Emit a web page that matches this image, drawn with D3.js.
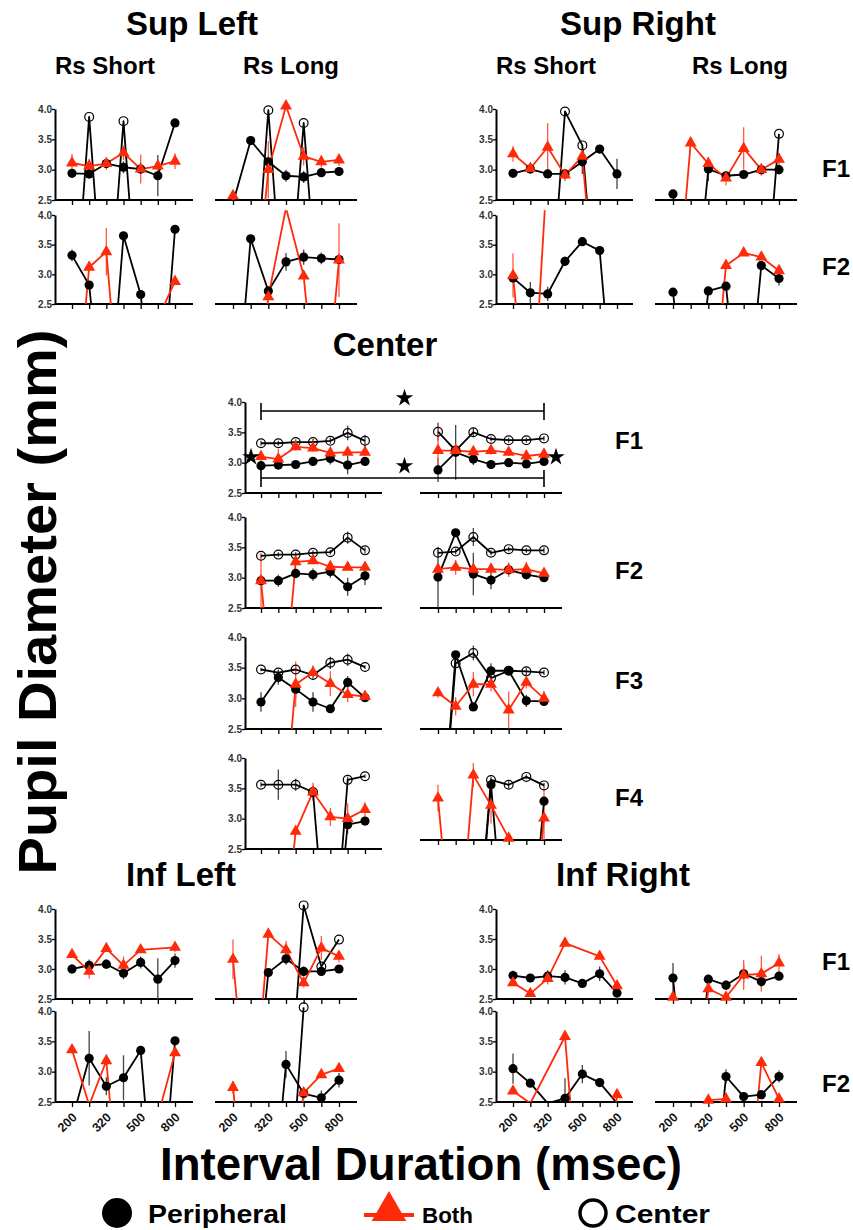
<!DOCTYPE html>
<html><head><meta charset="utf-8">
<script src="https://cdn.jsdelivr.net/npm/d3@7"></script>
<style>
body{margin:0;background:#fff}
text{font-family:"Liberation Sans",Arial,Helvetica,sans-serif;font-weight:bold}
</style>
</head><body>
<svg id="chart" width="853" height="1230"></svg>
<script>
// ---------------- DATA ----------------
const xTickLabels = ["200", "", "320", "", "500", "", "800"];
const yTicks = [2.5, 3.0, 3.5, 4.0];
const seriesNames = ["Peripheral", "Both", "Center"];
const N = [null, null, null, null, null, null, null];

// each panel: [Peripheral, Both, Center]; values below 2.5 run off the axis
const supLeftShortF1 = [[2.94,2.93,3.10,3.04,3.01,2.90,3.77],[3.11,3.06,3.10,3.28,3.01,3.06,3.14],[0,3.87,0,3.80,0,0,0]];
const supLeftShortF1Err = [[0.07,0.08,0.06,0.10,0.06,0.34,0.05],[0.15,0.12,0.10,0.12,0.24,0.08,0.13],N];
const supLeftLongF1 = [[2.45,3.48,3.13,2.90,2.88,2.95,2.97],[2.57,0,3.00,4.05,3.22,3.13,3.16],[0,0,3.98,0,3.77,0,0]];
const supLeftLongF1Err = [[null,null,0.10,0.10,0.10,0.07,0.07],[null,null,0.47,null,0.15,0.10,0.10],N];
const supLeftShortF2 = [[3.32,2.82,0,3.65,2.66,0,3.76],[0,3.12,3.38,0,0,2.25,2.88],N];
const supLeftShortF2Err = [[0.10,null,null,null,null,null,null],[null,null,0.40,null,null,null,null],N];
const supLeftLongF2 = [[0,3.60,2.72,3.21,3.29,3.27,3.25],[null,0,2.62,4.12,2.97,0,3.24],N];
const supLeftLongF2Err = [[null,null,null,0.15,0.13,0.10,null],[null,null,null,null,null,null,0.62],N];

const supRightShortF1 = [[2.94,3.01,2.93,2.93,3.13,3.34,2.93],[3.26,3.02,3.37,2.91,3.22,0,0],[0,0,0,3.96,3.40,0,0]];
const supRightShortF1Err = [[0.06,0.06,0.05,0.05,0.20,0.05,0.25],[0.13,0.06,0.40,0.10,0.15,null,null],N];
const supRightLongF1 = [[2.60,0,3.01,2.90,2.92,3.00,3.00],[0,3.44,3.10,2.86,3.35,3.00,3.17],[0,0,0,0,0,0,3.59]];
const supRightLongF1Err = [[0.06,null,0.20,0.06,0.06,0.06,0.08],[null,null,null,0.12,0.35,0.10,0.10],N];
const supRightShortF2 = [[2.94,2.69,2.67,3.22,3.55,3.40,0],[2.98,0,4.90,null,null,null,null],N];
const supRightShortF2Err = [[0.07,0.18,0.12,0.08,0.05,0.05,null],[0.37,null,null,null,null,null,null],N];
const supRightLongF2 = [[2.70,0,2.72,2.80,0,3.15,2.93],[null,null,0,3.15,3.36,3.29,3.06],N];
const supRightLongF2Err = [[null,null,null,null,null,null,0.12],N,N];

const centerShortF1 = [[2.95,2.96,2.97,3.02,3.07,2.96,3.02],[3.10,3.06,3.26,3.24,3.16,3.17,3.17],[3.32,3.32,3.34,3.34,3.36,3.49,3.36]];
const centerShortF1Err = [[0.04,0.06,0.05,0.06,0.10,0.15,0.06],[0.10,0.17,0.06,0.06,0.06,0.06,0.06],[0.04,0.04,0.04,0.05,0.05,0.12,0.10]];
const centerLongF1 = [[2.88,3.17,3.06,2.97,3.00,2.98,3.02],[3.20,3.20,3.18,3.20,3.17,3.11,3.14],[3.51,3.20,3.50,3.39,3.37,3.37,3.40]];
const centerLongF1Err = [[0.20,0.45,0.10,0.06,0.05,0.05,0.05],[0.40,0.10,0.07,0.07,0.06,0.08,0.07],[0.15,null,0.08,0.04,0.04,0.04,0.04]];
const centerShortF2 = [[2.95,2.95,3.07,3.05,3.10,2.85,3.03],[2.95,0,3.26,3.28,3.18,3.17,3.17],[3.36,3.38,3.38,3.41,3.42,3.66,3.45]];
const centerShortF2Err = [[0.05,0.10,0.08,0.10,0.10,0.15,0.15],[0.45,null,0.06,0.06,0.10,0.05,0.05],[0.04,0.04,0.04,0.04,0.04,0.10,0.05]];
const centerLongF2 = [[3.01,3.74,3.06,2.96,3.13,3.05,3.00],[3.14,3.17,3.14,3.14,3.13,3.14,3.07],[3.41,3.43,3.67,3.41,3.47,3.45,3.45]];
const centerLongF2Err = [[0.50,0.04,0.35,0.15,0.08,0.08,0.06],[0.06,0.12,0.06,0.08,0.12,0.12,0.08],[0.05,0.05,0.15,0.04,0.04,0.04,0.05]];
const centerShortF3 = [[2.94,3.34,3.15,2.94,2.83,3.26,3.01],[null,0,3.23,3.42,3.24,3.06,3.03],[3.47,3.42,3.47,3.38,3.58,3.63,3.51]];
const centerShortF3Err = [[0.16,0.12,0.15,0.16,0.06,0.10,0.05],[null,null,0.37,0.12,0.20,0.12,0.08],[0.03,0.05,0.05,0.05,0.10,0.10,0.03]];
const centerLongF3 = [[0,3.71,2.86,3.45,3.45,2.96,2.95],[3.09,2.87,3.23,3.23,2.81,3.26,3.00],[0,3.57,3.74,3.33,3.45,3.44,3.42]];
const centerLongF3Err = [[null,null,null,0.12,0.06,0.10,0.06],[0.08,0.15,0.20,0.12,0.30,0.10,0.12],[null,null,0.12,0.05,0.06,0.06,0.04]];
const centerShortF4 = [[null,null,null,0,0,2.90,2.96],[null,0,2.79,3.44,3.03,3.00,3.15],[3.56,3.56,3.56,3.44,0,3.64,3.70]];
const centerShortF4Err = [N,[null,null,null,0.15,0.15,0.25,0.12],[0.04,0.25,0.10,0.04,null,0.05,0.03]];
const centerLongF4 = [[null,null,0,3.41,0,0,3.14],[3.19,0,3.57,3.07,2.53,0,2.86],[null,null,0,3.49,3.41,3.54,3.40]];
const centerLongF4Err = [[null,null,null,0.10,null,null,null],[0.22,null,0.20,0.30,null,null,0.50],[null,null,null,0.05,0.06,0.04,0.04]];

const infLeftShortF1 = [[3.00,3.06,3.08,2.93,3.11,2.83,3.14],[3.24,2.96,3.34,3.06,3.32,null,3.36],N];
const infLeftShortF1Err = [[0.08,0.10,0.08,0.10,0.10,0.35,0.12],[0.04,0.12,0.04,0.15,0.04,null,0.08],N];
const infLeftLongF1 = [[null,0,2.94,3.17,2.96,2.96,3.00],[3.16,0,3.58,3.32,2.77,3.35,3.21],[null,null,null,0,4.06,3.04,3.49]];
const infLeftLongF1Err = [[null,null,null,0.10,0.08,0.06,0.06],[0.33,null,null,0.15,0.08,0.20,0.10],N];
const infLeftShortF2 = [[2.20,3.22,2.76,2.90,3.35,0,3.51],[3.36,2.45,3.18,0,0,2.26,3.31],N];
const infLeftShortF2Err = [[null,0.45,0.15,0.37,0.05,null,0.05],N,N];
const infLeftLongF2 = [[null,null,0,3.12,2.64,2.57,2.86],[2.74,0,null,0,2.65,2.95,3.05],[null,null,null,0,4.06,null,null]];
const infLeftLongF2Err = [[null,null,null,0.22,0.10,0.12,0.12],[0.10,null,null,null,null,null,null],N];

const infRightShortF1 = [[2.89,2.85,2.88,2.86,2.76,2.92,2.60],[2.77,2.59,2.84,3.43,null,3.21,2.72],N];
const infRightShortF1Err = [[0.08,0.07,0.10,0.12,0.07,0.12,0.20],[null,null,0.10,null,null,null,null],N];
const infRightLongF1 = [[2.85,0,2.83,2.73,2.92,2.79,2.88],[2.53,0,2.67,2.53,2.90,2.92,3.10],N];
const infRightLongF1Err = [[0.25,null,0.05,0.08,0.15,0.10,0.06],[null,null,null,null,0.25,0.30,0.15],N];
const infRightShortF2 = [[3.05,2.81,2.48,2.56,2.96,2.82,2.48],[2.68,2.48,null,3.58,0,0,2.62],N];
const infRightShortF2Err = [[0.25,null,null,0.33,0.15,null,null],N,N];
const infRightLongF2 = [[null,null,0,2.92,2.59,2.62,2.92],[null,null,2.53,2.55,0,3.15,2.55],N];
const infRightLongF2Err = [[null,null,null,0.12,null,null,0.10],N,N];

// ---------------- LAYOUT ----------------
const RED = "#ff2a0a";
const RED_ERR = "#ff5a45";
const svg = d3.select("#chart");
svg.append("rect").attr("width", 853).attr("height", 1230).attr("fill", "#fff");
const defs = svg.append("defs");

const cols = {
  slS: {x0: 55, t0: 72, t1: 175, x1: 193},
  slL: {x0: 215, t0: 233, t1: 339, x1: 357},
  srS: {x0: 496, t0: 513, t1: 617, x1: 633},
  srL: {x0: 655, t0: 673, t1: 779, x1: 797},
  cL: {x0: 245, t0: 261, t1: 365, x1: 382},
  cR: {x0: 420, t0: 438, t1: 544, x1: 562}
};
const rows = {
  supF1: {top: 109, bot: 200}, supF2: {top: 215, bot: 304},
  cF1: {top: 402, bot: 493}, cF2: {top: 517, bot: 608}, cF3: {top: 637, bot: 729},
  cF4: {top: 758, bot: 849}, cF4r: {top: 749, bot: 840},
  infF1: {top: 909, bot: 999}, infF2: {top: 1011, bot: 1102}
};

const panels = [
  {c: "slS", r: "supF1", d: supLeftShortF1, e: supLeftShortF1Err, yAxis: true},
  {c: "slL", r: "supF1", d: supLeftLongF1, e: supLeftLongF1Err},
  {c: "slS", r: "supF2", d: supLeftShortF2, e: supLeftShortF2Err, yAxis: true},
  {c: "slL", r: "supF2", d: supLeftLongF2, e: supLeftLongF2Err},
  {c: "srS", r: "supF1", d: supRightShortF1, e: supRightShortF1Err, yAxis: true},
  {c: "srL", r: "supF1", d: supRightLongF1, e: supRightLongF1Err},
  {c: "srS", r: "supF2", d: supRightShortF2, e: supRightShortF2Err, yAxis: true},
  {c: "srL", r: "supF2", d: supRightLongF2, e: supRightLongF2Err},
  {c: "cL", r: "cF1", d: centerShortF1, e: centerShortF1Err, yAxis: true},
  {c: "cR", r: "cF1", d: centerLongF1, e: centerLongF1Err},
  {c: "cL", r: "cF2", d: centerShortF2, e: centerShortF2Err, yAxis: true},
  {c: "cR", r: "cF2", d: centerLongF2, e: centerLongF2Err},
  {c: "cL", r: "cF3", d: centerShortF3, e: centerShortF3Err, yAxis: true},
  {c: "cR", r: "cF3", d: centerLongF3, e: centerLongF3Err},
  {c: "cL", r: "cF4", d: centerShortF4, e: centerShortF4Err, yAxis: true},
  {c: "cR", r: "cF4r", d: centerLongF4, e: centerLongF4Err},
  {c: "slS", r: "infF1", d: infLeftShortF1, e: infLeftShortF1Err, yAxis: true},
  {c: "slL", r: "infF1", d: infLeftLongF1, e: infLeftLongF1Err},
  {c: "slS", r: "infF2", d: infLeftShortF2, e: infLeftShortF2Err, yAxis: true, xLabels: true},
  {c: "slL", r: "infF2", d: infLeftLongF2, e: infLeftLongF2Err, xLabels: true},
  {c: "srS", r: "infF1", d: infRightShortF1, e: infRightShortF1Err, yAxis: true},
  {c: "srL", r: "infF1", d: infRightLongF1, e: infRightLongF1Err},
  {c: "srS", r: "infF2", d: infRightShortF2, e: infRightShortF2Err, yAxis: true, xLabels: true},
  {c: "srL", r: "infF2", d: infRightLongF2, e: infRightLongF2Err, xLabels: true}
];

const scales = {};
panels.forEach((p, pi) => {
  const c = cols[p.c], r = rows[p.r];
  const x = d3.scalePoint().domain(d3.range(7)).range([c.t0, c.t1]);
  const y = d3.scaleLinear().domain([2.5, 4.0]).range([r.bot, r.top]);
  scales[p.c + p.r] = {x, y};
  const g = svg.append("g");
  const cid = "clip" + pi;
  const clipTop = y(4.08);
  defs.append("clipPath").attr("id", cid).append("rect")
    .attr("x", c.x0 - 8).attr("y", clipTop).attr("width", c.x1 - c.x0 + 16).attr("height", r.bot - clipTop);

  // axes
  const xa = d3.axisBottom(x).tickSize(5).tickSizeOuter(0)
    .tickFormat(i => p.xLabels ? xTickLabels[i] : "");
  const xg = g.append("g").attr("transform", `translate(0,${r.bot})`).call(xa);
  xg.select(".domain").remove();
  xg.selectAll(".tick line").attr("stroke", "#000").attr("stroke-width", 1.3);
  xg.selectAll(".tick text")
    .attr("font-size", 12.5).attr("fill", "#111").attr("text-anchor", "end")
    .attr("x", 0).attr("y", 0).attr("dy", "0.35em")
    .attr("transform", "translate(2,13) rotate(-45)");
  g.append("line").attr("x1", c.x0).attr("x2", c.x1).attr("y1", r.bot).attr("y2", r.bot)
    .attr("stroke", "#000").attr("stroke-width", 2.2);
  if (p.yAxis) {
    const ya = d3.axisLeft(y).tickValues(yTicks).tickSize(3).tickSizeOuter(0).tickFormat(d3.format(".1f"));
    const yg = g.append("g").attr("transform", `translate(${c.x0},0)`).call(ya);
    yg.select(".domain").attr("stroke", "#000").attr("stroke-width", 2);
    yg.selectAll(".tick line").attr("stroke", "#000").attr("stroke-width", 1.3);
    yg.selectAll(".tick text").attr("font-size", 10).attr("fill", "#333").attr("x", -3);
  }

  const clipped = g.append("g").attr("clip-path", `url(#${cid})`);
  const pts = s => p.d[s].map((v, i) => ({i, v, e: p.e[s][i]})).filter(o => o.v !== null);
  const colorOf = s => s === 1 ? RED : "#000";

  // error bars
  [0, 2, 1].forEach(s => {
    clipped.selectAll(null).data(pts(s).filter(o => o.e !== null && o.v >= 2.5))
      .join("line")
      .attr("x1", o => x(o.i)).attr("x2", o => x(o.i))
      .attr("y1", o => y(o.v - o.e)).attr("y2", o => y(o.v + o.e))
      .attr("stroke", s === 1 ? RED_ERR : "#444").attr("stroke-width", 1.3);
  });

  const line = d3.line().x(o => x(o.i)).y(o => y(o.v));
  [0, 2, 1].forEach(s => {
    const data = pts(s);
    if (data.length > 1) {
      clipped.append("path").datum(data).attr("d", line)
        .attr("fill", "none").attr("stroke", colorOf(s)).attr("stroke-width", 1.8)
        .attr("stroke-linejoin", "round");
    }
    const vis = data.filter(o => o.v >= 2.5 && o.v <= 4.1);
    if (s === 0) {
      g.selectAll(null).data(vis).join("circle")
        .attr("cx", o => x(o.i)).attr("cy", o => y(o.v)).attr("r", 4.6).attr("fill", "#000");
    } else if (s === 2) {
      g.selectAll(null).data(vis).join("circle")
        .attr("cx", o => x(o.i)).attr("cy", o => y(o.v)).attr("r", 4.4)
        .attr("fill", "none").attr("stroke", "#000").attr("stroke-width", 1.2);
    } else {
      g.selectAll(null).data(vis).join("path")
        .attr("d", d3.symbol().type(d3.symbolTriangle).size(62))
        .attr("transform", o => `translate(${x(o.i)},${y(o.v)})`).attr("fill", RED);
    }
  });
});

// significance brackets in Center F1
(function () {
  const L = scales["cLcF1"], R = scales["cRcF1"];
  const xa = L.x(0), xb = R.x(6);
  const br = [{y: 411, y1: 403, y2: 420}, {y: 478, y1: 470, y2: 487}];
  br.forEach(b => {
    svg.append("path").attr("d", `M${xa},${b.y1}V${b.y2}M${xa},${b.y}H${xb}M${xb},${b.y1}V${b.y2}`)
      .attr("fill", "none").attr("stroke", "#000").attr("stroke-width", 1.6);
  });
  const star = d3.symbol().type(d3.symbolStar).size(95);
  [[(xa + xb) / 2 + 2, 398], [(xa + xb) / 2 + 2, 466], [251, 457], [556, 457]].forEach(([sx, sy]) => {
    svg.append("path").attr("d", star).attr("transform", `translate(${sx},${sy})`).attr("fill", "#000");
  });
})();

// titles
const T = (txt, x, y, size, len, anchor = "middle") => {
  const t = svg.append("text").attr("x", x).attr("y", y).attr("font-size", size)
    .attr("text-anchor", anchor).attr("fill", "#000").text(txt);
  if (len) t.attr("textLength", len).attr("lengthAdjust", "spacingAndGlyphs");
  return t;
};
T("Sup Left", 192, 35, 33);
T("Sup Right", 638, 35, 33);
T("Rs Short", 105, 74, 24);
T("Rs Long", 291, 74, 24);
T("Rs Short", 546, 74, 24);
T("Rs Long", 740, 74, 24);
T("Center", 385, 356, 33);
T("Inf Left", 181, 886, 33);
T("Inf Right", 623, 886, 33);
[["F1", 822, 177], ["F2", 822, 275], ["F1", 615, 449], ["F2", 615, 579], ["F3", 615, 689],
 ["F4", 615, 806], ["F1", 822, 970], ["F2", 822, 1092]].forEach(([t, x, y]) => T(t, x, y, 24, null, "start"));

svg.append("text").attr("transform", "translate(56,602) rotate(-90)").attr("text-anchor", "middle")
  .attr("font-size", 54).attr("textLength", 545).attr("lengthAdjust", "spacingAndGlyphs")
  .text("Pupil Diameter (mm)");
T("Interval Duration (msec)", 421, 1180, 46, 522);

// legend
const lg = svg.append("g");
lg.append("circle").attr("cx", 117).attr("cy", 1213).attr("r", 15).attr("fill", "#000");
T(seriesNames[0], 148, 1223, 26, 139, "start");
lg.append("line").attr("x1", 364).attr("x2", 414).attr("y1", 1215).attr("y2", 1215).attr("stroke", RED).attr("stroke-width", 4);
lg.append("path").attr("d", d3.symbol().type(d3.symbolTriangle).size(520)).attr("transform", "translate(389,1211)").attr("fill", RED);
T(seriesNames[1], 422, 1223, 22, 51, "start");
lg.append("circle").attr("cx", 593).attr("cy", 1213).attr("r", 13).attr("fill", "none").attr("stroke", "#000").attr("stroke-width", 3.5);
T(seriesNames[2], 615, 1223, 26, 95, "start");
</script>
</body></html>
